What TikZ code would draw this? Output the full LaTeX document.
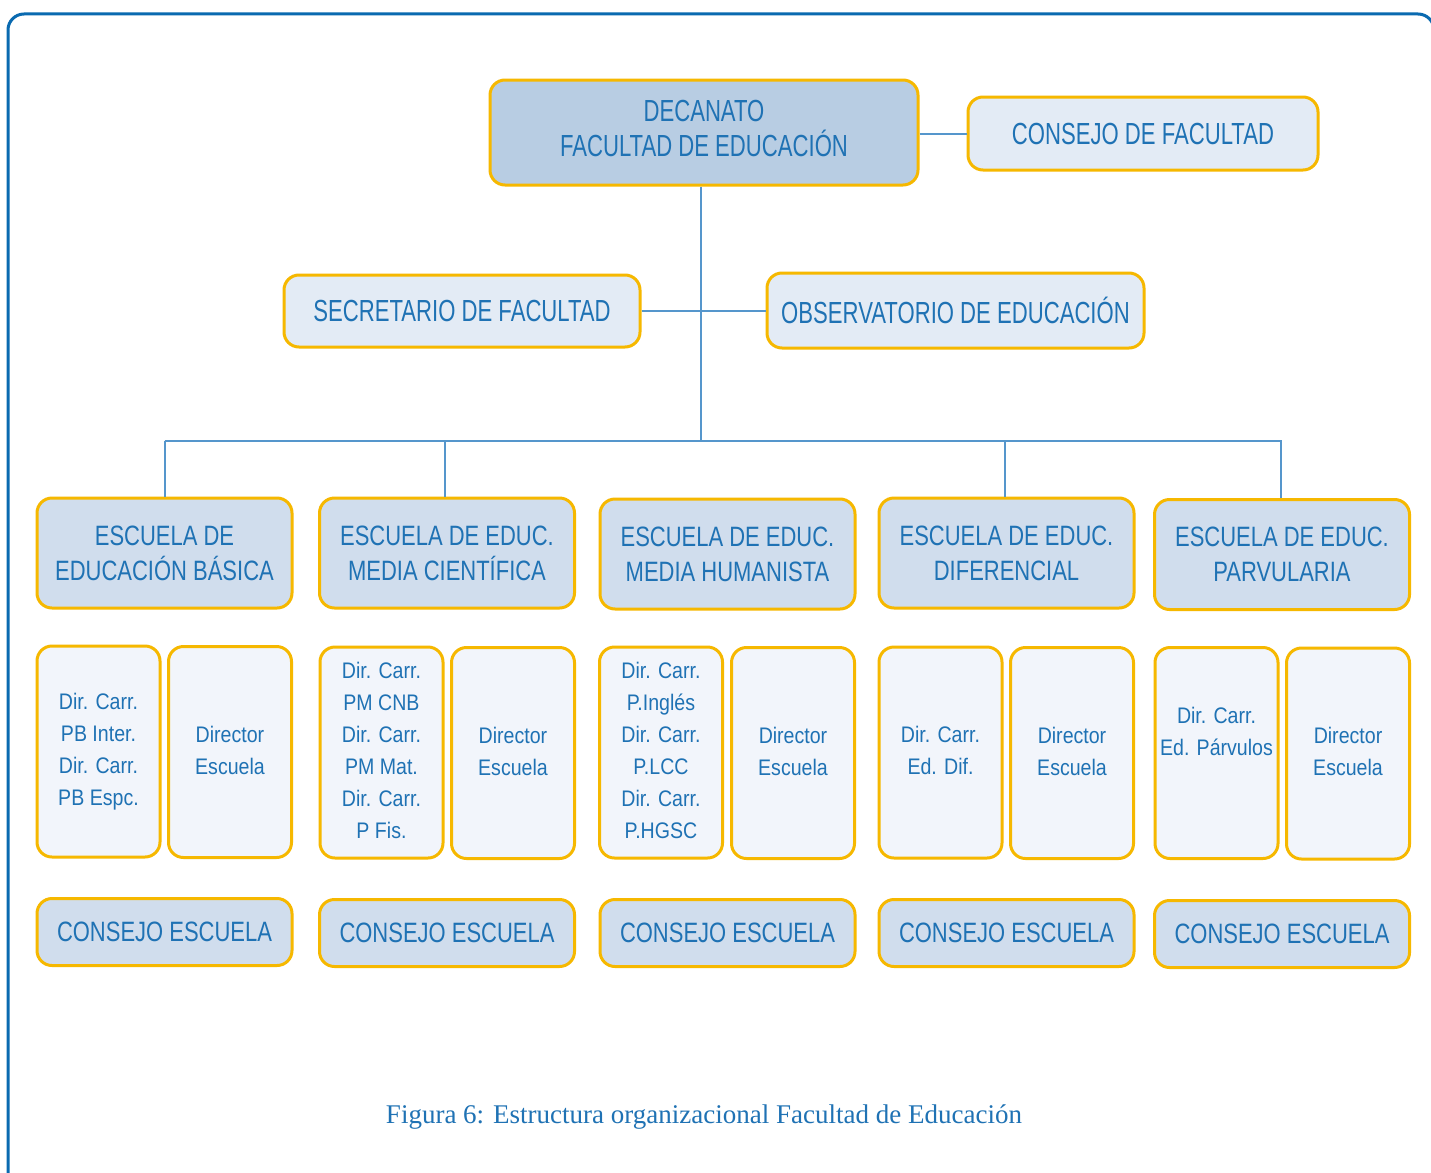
\documentclass[tikz,border=0pt]{standalone}
\usepackage{fontspec}
\setmainfont{Liberation Sans}
\newfontfamily\capsf{Liberation Sans}[FakeStretch=0.725]
\newfontfamily\schoolsf{Liberation Sans}[FakeStretch=0.785]
\newfontfamily\mixf{Liberation Sans}[FakeStretch=0.87]
\newfontfamily\capfont{Liberation Serif}
\definecolor{frameblue}{HTML}{0A6AB0}
\definecolor{txt}{HTML}{1F72B4}
\definecolor{conn}{HTML}{5596CC}
\definecolor{edge}{HTML}{F6B800}
\definecolor{fdark}{HTML}{B8CDE3}
\definecolor{fmid}{HTML}{D0DDED}
\definecolor{flight}{HTML}{E3EBF5}
\definecolor{fpale}{HTML}{F2F5FB}
\tikzset{
  orgbox/.style={draw=edge, line width=3pt, rounded corners=15pt, inner sep=0pt, text=txt, align=center},
  bigtxt/.style={font=\capsf\fontsize{30.5}{35}\selectfont},
  midtxt/.style={font=\schoolsf\fontsize{28}{35}\selectfont},
  smalltxt/.style={font=\mixf\fontsize{22.5}{32}\selectfont},
  school/.style={orgbox, fill=fmid, minimum width=255pt, minimum height=110pt, midtxt},
  smallbox/.style={orgbox, fill=fpale, minimum width=123pt, minimum height=211pt, smalltxt},
  council/.style={orgbox, fill=fmid, minimum width=255pt, minimum height=67pt, midtxt},
  link/.style={draw=conn, line width=1.5pt}
}
\begin{document}
\begin{tikzpicture}[x=1pt,y=-1pt]
\useasboundingbox (0,0) rectangle (1431,1172);
\fill[white] (0,0) rectangle (1431,1172);
\draw[frameblue, line width=3pt, rounded corners=16pt] (8,14) rectangle (1434,1190);

% top level
\node[orgbox, fill=fdark, minimum width=428pt, minimum height=105pt, bigtxt, text depth=8pt] (dec) at (704,132.5) {DECANATO\\FACULTAD DE EDUCACIÓN};
\node[orgbox, fill=flight, minimum width=350pt, minimum height=73pt, bigtxt] (cf) at (1143,133.5) {CONSEJO DE FACULTAD};
\node[orgbox, fill=flight, minimum width=356pt, minimum height=72pt, bigtxt] (sec) at (462,311) {SECRETARIO DE FACULTAD};
\node[orgbox, fill=flight, minimum width=377pt, minimum height=75pt, bigtxt] (obs) at (955.5,310.5) {OBSERVATORIO DE EDUCACIÓN};

% schools
\node[school] (s1) at (164.5,553) {ESCUELA DE\\EDUCACIÓN BÁSICA};
\node[school] (s2) at (447,553) {ESCUELA DE EDUC.\\MEDIA CIENTÍFICA};
\node[school] (s3) at (727.5,554) {ESCUELA DE EDUC.\\MEDIA HUMANISTA};
\node[school] (s4) at (1006.5,553) {ESCUELA DE EDUC.\\DIFERENCIAL};
\node[school] (s5) at (1282,554.5) {ESCUELA DE EDUC.\\PARVULARIA};

% directors
\node[smallbox, text depth=4pt] (a1) at (98.5,751.5) {Dir. Carr.\\PB Inter.\\Dir. Carr.\\PB Espc.};
\node[smallbox, text depth=4pt] (b1) at (230,752) {Director\\Escuela};
\node[smallbox, text depth=4pt] (a2) at (381.5,752.5) {Dir. Carr.\\PM CNB\\Dir. Carr.\\PM Mat.\\Dir. Carr.\\P Fis.};
\node[smallbox, text depth=4pt] (b2) at (513,753) {Director\\Escuela};
\node[smallbox, text depth=4pt] (a3) at (661,752.5) {Dir. Carr.\\P.Inglés\\Dir. Carr.\\P.LCC\\Dir. Carr.\\P.HGSC};
\node[smallbox, text depth=4pt] (b3) at (793,753) {Director\\Escuela};
\node[smallbox, text depth=4pt] (a4) at (940.5,752.5) {Dir. Carr.\\Ed. Dif.};
\node[smallbox, text depth=4pt] (b4) at (1072,753) {Director\\Escuela};
\node[smallbox] (a5) at (1216.5,753) {};
\node[smalltxt, text=txt, align=center] (a5t) at (1216.5,731) {Dir. Carr.\\Ed. Párvulos};
\node[smallbox, text depth=4pt] (b5) at (1348,753.5) {Director\\Escuela};

% councils
\node[council] (c1) at (164.5,932) {CONSEJO ESCUELA};
\node[council] (c2) at (447,933) {CONSEJO ESCUELA};
\node[council] (c3) at (727.5,933) {CONSEJO ESCUELA};
\node[council] (c4) at (1006.5,933) {CONSEJO ESCUELA};
\node[council] (c5) at (1282,934) {CONSEJO ESCUELA};

% connectors
\coordinate (hub) at (701,441);
\draw[link] ([yshift=-1.5pt]dec.east) -- ([yshift=-1.5pt]dec.east -| cf.west);
\draw[link] (dec.south -| hub) -- (hub);
\draw[link] (sec.east) -- (sec.east -| obs.west);
\draw[link] (s1.north |- hub) -- (s5.north |- hub);
\draw[link] ([xshift=0.5pt]s1.north) -- ([xshift=0.5pt]s1.north |- hub);
\draw[link] ([xshift=-2pt]s2.north) -- ([xshift=-2pt]s2.north |- hub);
\draw[link] ([xshift=-1.5pt]s4.north) -- ([xshift=-1.5pt]s4.north |- hub);
\draw[link] ([xshift=-1pt]s5.north) -- ([xshift=-1pt]s5.north |- hub);

% caption
\node[text=txt, font=\capfont\fontsize{27}{32}\selectfont] (cap) at (704,1117) {Figura 6: Estructura organizacional Facultad de Educación};
\end{tikzpicture}
\end{document}
